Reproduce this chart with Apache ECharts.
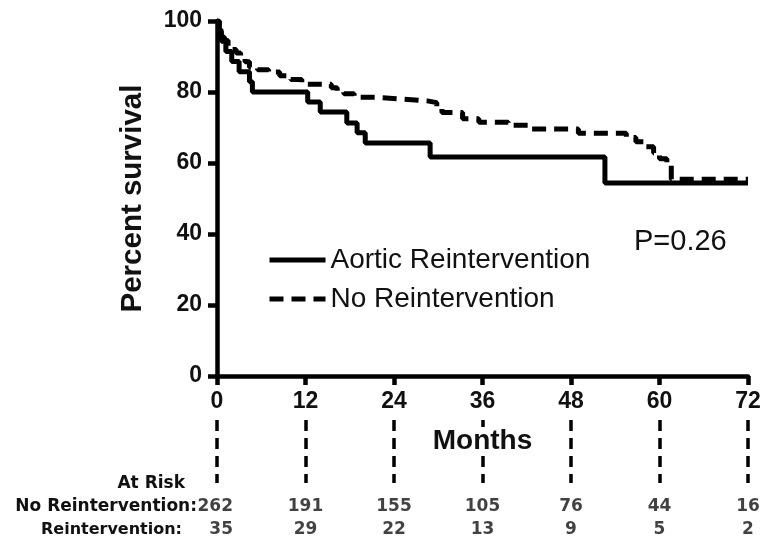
<!DOCTYPE html>
<html><head><meta charset="utf-8">
<script src="https://cdn.jsdelivr.net/npm/echarts@6/dist/echarts.min.js"></script>
<style>html,body{margin:0;padding:0;background:#fff}#c{width:765px;height:543px}</style>
</head><body><div id="c"></div>
<script>
// Tick labels / at-risk columns (months)
const monthTicks = [0, 12, 24, 36, 48, 60, 72];
const atRiskNo = [262, 191, 155, 105, 76, 44, 16];
const atRiskRe = [35, 29, 22, 13, 9, 5, 2];
const rowLabels = ['Reintervention:', 'No Reintervention:', 'At Risk'];

// Aortic Reintervention (solid) KM steps
const reTimes = [0, 0.3, 0.6, 1.2, 2.0, 3.0, 4.4, 4.8, 12.3, 14.0, 17.6, 19.0, 20.1, 28.9, 52.6, 72];
const reSurv  = [100, 97.1, 94.3, 91.4, 88.6, 85.7, 82.9, 80.0, 77.2, 74.4, 71.3, 68.5, 65.6, 61.7, 54.4, 54.4];

// No Reintervention (dashed) KM steps
const noTimes = [0, 0.3, 0.6, 1.0, 1.5, 2.0, 2.6, 3.2, 3.8, 4.4, 5.5, 7.0, 8.5, 10.0, 11.5, 15.5, 16.3, 17.2, 18.6, 21.5, 25.0, 28.5, 29.8, 30.5, 33.3, 35.5, 39.5, 42.5, 49.0, 55.5, 56.8, 58.0, 59.2, 60.0, 61.0, 61.6, 72];
const noSurv  = [100, 97.5, 95.5, 94.5, 93.0, 92.0, 91.0, 90.0, 88.5, 87.0, 86.3, 85.6, 84.6, 83.5, 82.2, 81.2, 80.3, 79.5, 78.5, 78.0, 77.5, 77.0, 75.8, 74.2, 72.5, 71.5, 70.6, 69.6, 68.4, 67.2, 66.0, 64.6, 62.8, 61.2, 59.6, 55.4, 55.4];

const pText = 'P=0.26';

const chart = echarts.init(document.getElementById('c'), null, {renderer: 'canvas'});
const F = 'Liberation Sans, Arial, sans-serif';
const FT = 'DejaVu Sans, sans-serif';

const tableData = [];
monthTicks.forEach((m, i) => {
  const first = i === 0;
  const lab = first ? {align: 'right', offset: [16, 0]} : {};
  tableData.push({value: [m, 'No Reintervention:', atRiskNo[i]], label: lab});
  tableData.push({value: [m, 'Reintervention:', atRiskRe[i]], label: lab});
});

const option = {
  animation: false,
  backgroundColor: '#fff',
  title: {text: pText, left: 629, top: 222, textStyle: {fontFamily: F, fontSize: 29, fontWeight: 'normal', color: '#111'}},
  legend: {
    orient: 'vertical', left: 267, top: 246, padding: 0, itemWidth: 56, itemHeight: 14, itemGap: 11,
    itemStyle: {opacity: 0},
    lineStyle: {width: 5},
    textStyle: {fontFamily: F, fontSize: 28, color: '#111'},
    data: ['Aortic Reintervention', 'No Reintervention']
  },
  grid: [
    {left: 217, right: 17, top: 21, bottom: 167},
    {left: 217, right: 17, top: 420, height: 63},
    {left: 217, right: 17, top: 472, height: 69}
  ],
  xAxis: [
    {gridIndex: 0, type: 'value', min: 0, max: 72, interval: 12, z: 5,
     name: 'Months', nameLocation: 'middle', nameGap: 51,
     nameTextStyle: {fontFamily: F, fontSize: 28, fontWeight: 'bold', color: '#111', backgroundColor: '#fff', padding: [0, 4]},
     axisLine: {lineStyle: {color: '#000', width: 4.5}},
     axisTick: {length: 9, lineStyle: {color: '#000', width: 4.5}},
     axisLabel: {margin: 14, fontFamily: F, fontSize: 23, fontWeight: 'bold', color: '#111'},
     splitLine: {show: false}},
    {gridIndex: 1, type: 'value', min: 0, max: 72, interval: 12, z: 1,
     axisLine: {show: false}, axisTick: {show: false}, axisLabel: {show: false},
     splitLine: {show: true, showMinLine: true, showMaxLine: true, lineStyle: {color: '#000', width: 3.5, type: [11, 7]}}},
    {gridIndex: 2, type: 'value', min: 0, max: 72, interval: 12, show: false}
  ],
  yAxis: [
    {gridIndex: 0, type: 'value', min: 0, max: 100, interval: 20,
     name: 'Percent survival', nameLocation: 'middle', nameGap: 69, nameRotate: 90,
     nameTextStyle: {fontFamily: F, fontSize: 29.5, fontWeight: 'bold', color: '#111'},
     axisLine: {show: true, lineStyle: {color: '#000', width: 4.5}},
     axisTick: {show: true, length: 9, lineStyle: {color: '#000', width: 4.5}},
     axisLabel: {margin: 15, fontFamily: F, fontSize: 23, fontWeight: 'bold', color: '#111'},
     splitLine: {show: false}},
    {gridIndex: 1, type: 'value', show: false},
    {gridIndex: 2, type: 'category', data: rowLabels,
     axisLine: {show: false}, axisTick: {show: false}, splitLine: {show: false},
     axisLabel: {margin: 20, fontFamily: FT, fontSize: 17, fontWeight: 'bold', color: '#111',
       formatter: v => v === 'At Risk' ? '{a|' + v + '}' : (v === 'Reintervention:' ? '{b|' + v + '}' : v),
       rich: {a: {fontFamily: FT, fontSize: 17, fontWeight: 'bold', color: '#111', padding: [0, 12, 0, 0]},
              b: {fontFamily: FT, fontSize: 16, fontWeight: 'bold', color: '#111', padding: [0, 15, 0, 0]}}}}
  ],
  series: [
    {name: 'Aortic Reintervention', type: 'line', step: 'end', xAxisIndex: 0, yAxisIndex: 0,
     symbol: 'none', lineStyle: {color: '#000', width: 5, type: 'solid'}, itemStyle: {color: '#000'},
     data: reTimes.map((t, i) => [t, reSurv[i]]), z: 3},
    {name: 'No Reintervention', type: 'line', step: 'end', xAxisIndex: 0, yAxisIndex: 0,
     symbol: 'none', lineStyle: {color: '#000', width: 5, type: [14, 8]}, itemStyle: {color: '#000'},
     data: noTimes.map((t, i) => [t, noSurv[i]]), z: 2},
    {type: 'scatter', xAxisIndex: 2, yAxisIndex: 2, symbolSize: 0, silent: true,
     label: {show: true, position: 'inside', fontFamily: FT, fontSize: 17, fontWeight: 'bold', color: '#111',
       formatter: p => String(p.value[2])},
     data: tableData}
  ]
};
chart.setOption(option);
</script>
</body></html>
